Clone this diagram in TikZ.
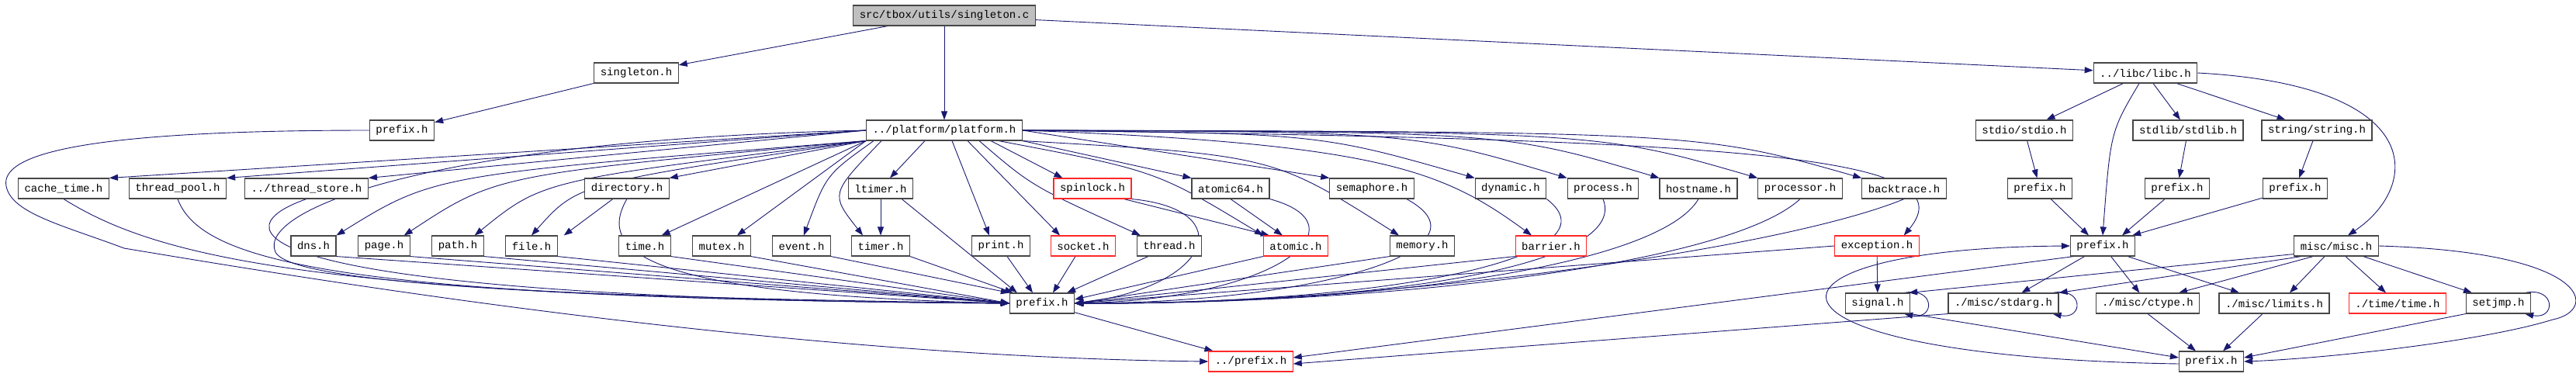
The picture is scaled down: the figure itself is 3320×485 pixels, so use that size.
\documentclass[tikz,border=0pt]{standalone}
\usepackage{fontspec}
\setmonofont{Liberation Mono}
\usetikzlibrary{arrows.meta, backgrounds}
\definecolor{EdgeBlue}{RGB}{25,25,112}
\definecolor{BoxRed}{RGB}{255,40,40}
\definecolor{TopGray}{RGB}{191,191,191}
\definecolor{BoxGray}{RGB}{70,70,70}

\begin{document}
\begin{tikzpicture}[
  x=1pt, y=-1pt,
  font=\ttfamily\fontsize{14}{16}\selectfont,
  hdr/.style={rectangle, draw=BoxGray, line width=1.1pt, fill=white,
              minimum height=26pt, inner xsep=8pt, inner ysep=0pt},
  errhdr/.style={hdr, draw=BoxRed},
  tophdr/.style={hdr, fill=TopGray},
  arrow/.style={-{Triangle[length=11pt,width=8pt]}, EdgeBlue, line width=0.9pt},
]
\useasboundingbox (0,0) rectangle (3320,485);

% Top
\node[tophdr] (sc) at (1217,20) {src/tbox/utils/singleton.c};
\node[hdr] (singh) at (820,94) {singleton.h};
\node[hdr] (libc) at (2765,94) {../libc/libc.h};
\node[hdr] (prefa) at (518,168) {prefix.h};
\node[hdr] (plat) at (1217,168) {../platform/platform.h};
\node[hdr] (stdio) at (2609,168) {stdio/stdio.h};
\node[hdr] (stdlib) at (2820,168) {stdlib/stdlib.h};
\node[hdr] (strg) at (2986,168) {string/string.h};

% Row 3
\node[hdr] (ctime) at (82,243) {cache\_time.h};
\node[hdr] (tpool) at (229,243) {thread\_pool.h};
\node[hdr] (tstore) at (395,243) {../thread\_store.h};
\node[hdr] (dir) at (808,243) {directory.h};
\node[hdr] (ltimer) at (1135,243) {ltimer.h};
\node[errhdr] (spin) at (1408,243) {spinlock.h};
\node[hdr] (at64) at (1586,243) {atomic64.h};
\node[hdr] (sema) at (1768,243) {semaphore.h};
\node[hdr] (dyn) at (1947,243) {dynamic.h};
\node[hdr] (proc) at (2066,243) {process.h};
\node[hdr] (host) at (2189,243) {hostname.h};
\node[hdr] (cpu) at (2320,243) {processor.h};
\node[hdr] (btrace) at (2454,243) {backtrace.h};
\node[hdr] (prefsa) at (2629,243) {prefix.h};
\node[hdr] (prefsb) at (2806,243) {prefix.h};
\node[hdr] (prefsc) at (2958,243) {prefix.h};

% Row 4
\node[hdr] (dns) at (404,317) {dns.h};
\node[hdr] (page) at (495,317) {page.h};
\node[hdr] (path) at (590,317) {path.h};
\node[hdr] (file) at (685,317) {file.h};
\node[hdr] (time) at (831,317) {time.h};
\node[hdr] (mutex) at (930,317) {mutex.h};
\node[hdr] (event) at (1033,317) {event.h};
\node[hdr] (timer) at (1135,317) {timer.h};
\node[hdr] (print) at (1290,317) {print.h};
\node[errhdr] (socket) at (1396,317) {socket.h};
\node[hdr] (thread) at (1507,317) {thread.h};
\node[errhdr] (atomic) at (1670,317) {atomic.h};
\node[hdr] (memory) at (1833,317) {memory.h};
\node[errhdr] (barrier) at (1999,317) {barrier.h};
\node[errhdr] (except) at (2419,317) {exception.h};
\node[hdr] (prefl) at (2710,317) {prefix.h};
\node[hdr] (misc) at (3011,317) {misc/misc.h};

% Row 5
\node[hdr] (prefp) at (1343,391) {prefix.h};
\node[hdr] (signal) at (2420,391) {signal.h};
\node[hdr] (stdarg) at (2582,391) {./misc/stdarg.h};
\node[hdr] (ctype) at (2768,391) {./misc/ctype.h};
\node[hdr] (limits) at (2931,391) {./misc/limits.h};
\node[errhdr] (ttime) at (3090,391) {./time/time.h};
\node[hdr] (setjmp) at (3220,391) {setjmp.h};

% Row 6
\node[errhdr] (dpref) at (1612,466) {../prefix.h};
\node[hdr] (prefb) at (2850,466) {prefix.h};

\begin{scope}[on background layer]
% Source file
\draw[arrow] (sc) -- (singh);
\draw[arrow] (sc) -- (plat);
\draw[arrow] (sc) -- (libc);
\draw[arrow] (singh) -- (prefa);
\draw[arrow] (prefa.west) .. controls (100,168) and (0,200) .. (8,240)
  .. controls (15,275) and (80,290) .. (160,320)
  .. controls (400,360) and (1000,460) .. (dpref.west);

% Platform, left side
\draw[arrow] (plat.west) -- (ctime.north east);
\draw[arrow] (plat.west) -- (tpool.north east);
\draw[arrow] (plat.west) -- (tstore.north east);
\draw[arrow] (plat.south west) -- (dir.north east);
\draw[arrow] (plat.south west) .. controls (560,225) .. (dns.north east);
\draw[arrow] (plat.south west) .. controls (640,225) .. ([xshift=-8pt]page.north east);
\draw[arrow] (plat.south west) .. controls (700,232) .. ([xshift=-12pt]path.north east);
\draw[arrow] (plat.south west) .. controls (745,236) .. (file.north);
\draw[arrow] (plat.south west) -- ([xshift=-12pt]time.north east);
\draw[arrow] (plat.south west) -- ([xshift=-18pt]mutex.north east);
\draw[arrow] ([xshift=10pt]plat.south west) .. controls (1065,225) .. ([xshift=-35pt]event.north east);
\draw[arrow] ([xshift=20pt]plat.south west) .. controls (1070,250) .. ([xshift=15pt]timer.north west);
\draw[arrow] ([xshift=-25pt]plat.south) -- ([xshift=12pt]ltimer.north);
\draw[arrow] (plat.west) .. controls (560,180) and (330,270) .. (355,325)
  .. controls (380,375) and (900,385) .. (prefp.west);

% Platform, middle
\draw[arrow] ([xshift=10pt]plat.south) -- ([xshift=-15pt]print.north);
\draw[arrow] ([xshift=30pt]plat.south) -- ([xshift=-30pt]socket.north);
\draw[arrow] ([xshift=45pt]plat.south) .. controls (1330,240) .. ([xshift=5pt]thread.north west);
\draw[arrow] ([xshift=60pt]plat.south) -- ([xshift=12pt]spin.north west);
\draw[arrow] ([xshift=70pt]plat.south) .. controls (1490,220) .. (atomic.north west);
\draw[arrow] (plat.south east) -- (at64.north west);
\draw[arrow] (plat.south east) .. controls (1640,200) .. ([xshift=-30pt]memory.north);

% Platform, right side
\draw[arrow] (plat.east) -- (sema.north west);
\draw[arrow] (plat.east) .. controls (1780,185) and (1860,220) .. ([xshift=-25pt]barrier.north);
\draw[arrow] (plat.east) .. controls (1700,172) .. (dyn.north west);
\draw[arrow] (plat.east) .. controls (1820,170) .. (proc.north west);
\draw[arrow] (plat.east) .. controls (1940,170) .. (host.north west);
\draw[arrow] (plat.east) .. controls (2060,170) .. (cpu.north west);
\draw[arrow] (plat.east) .. controls (2190,170) .. (btrace.north west);
\draw[arrow] (plat.east) .. controls (2250,180) and (2540,200) .. ([xshift=-20pt]except.north east);

% Row 3 and 4 to prefix.h
\draw[arrow] (ctime.south) .. controls (200,330) and (400,385) .. (prefp.west);
\draw[arrow] (tpool.south) .. controls (260,340) and (450,385) .. (prefp.west);
\draw[arrow] (tstore.south) .. controls (270,300) and (330,385) .. (prefp.west);
\draw[arrow] (dir) -- ([xshift=8pt]file.north east);
\draw[arrow] (dir.south) .. controls (765,330) and (850,380) .. (prefp.west);
\draw[arrow] (dns.south east) -- (prefp.west);
\draw[arrow] (page.south east) -- (prefp.west);
\draw[arrow] (path.south east) -- (prefp.west);
\draw[arrow] (file.south east) -- (prefp.west);
\draw[arrow] (time.south east) -- (prefp.west);
\draw[arrow] (mutex.south east) -- (prefp.west);
\draw[arrow] (event.south east) -- (prefp.north west);
\draw[arrow] (ltimer) -- (timer);
\draw[arrow] (timer.south east) -- ([xshift=5pt]prefp.north west);
\draw[arrow] ([xshift=-15pt]ltimer.south east) -- ([xshift=10pt]prefp.north west);
\draw[arrow] ([xshift=8pt]print.south) -- ([xshift=-12pt]prefp.north);
\draw[arrow] ([xshift=-10pt]socket.south) -- ([xshift=14pt]prefp.north);
\draw[arrow] ([xshift=15pt]thread.south west) -- ([xshift=-10pt]prefp.north east);
\draw[arrow] ([xshift=-10pt]spin.south east) -- ([xshift=8pt]atomic.north west);
\draw[arrow] (at64.south) -- ([xshift=25pt]atomic.north west);
\draw[arrow] (atomic.south west) -- ([yshift=5pt]prefp.east);
\draw[arrow] (memory.south west) -- (prefp.east);
\draw[arrow] (barrier.south west) -- (prefp.east);
\draw[arrow] (spin.south east) .. controls (1600,270) and (1560,370) .. (prefp.east);
\draw[arrow] (at64.south east) .. controls (1760,290) and (1650,385) .. (prefp.east);
\draw[arrow] ([xshift=-10pt]sema.south east) .. controls (1930,320) and (1700,390) .. (prefp.east);
\draw[arrow] (dyn.south east) .. controls (2090,330) and (1800,392) .. (prefp.east);
\draw[arrow] (proc.south) .. controls (2100,340) and (1800,392) .. (prefp.east);
\draw[arrow] (host.south) .. controls (2140,340) and (1800,392) .. (prefp.east);
\draw[arrow] (cpu.south) .. controls (2230,340) and (1800,392) .. (prefp.east);
\draw[arrow] (btrace.south) .. controls (2300,320) and (1800,392) .. (prefp.east);
\draw[arrow] (except.west) -- (prefp.east);
\draw[arrow] (prefp) -- (dpref);

% libc
\draw[arrow] (libc) -- (stdio);
\draw[arrow] (libc) -- (stdlib);
\draw[arrow] (libc) -- (strg);
\draw[arrow] ([xshift=-8pt]libc.south) .. controls (2720,170) .. (prefl.north);
\draw[arrow] (libc.east) .. controls (3130,110) and (3120,240) .. ([xshift=15pt]misc.north);
\draw[arrow] (stdio) -- (prefsa);
\draw[arrow] (stdlib) -- (prefsb);
\draw[arrow] (strg) -- (prefsc);
\draw[arrow] (prefsa) -- ([xshift=-18pt]prefl.north);
\draw[arrow] (prefsb) -- ([xshift=25pt]prefl.north);
\draw[arrow] (prefsc) -- ([xshift=-4pt]prefl.north east);

% libc prefix.h and misc
\draw[arrow] (except) -- (signal);
\draw[arrow] (prefl) -- (stdarg);
\draw[arrow] (prefl) -- (ctype);
\draw[arrow] ([xshift=-10pt]prefl.south east) -- ([xshift=-45pt]limits.north);
\draw[arrow] ([xshift=5pt]prefl.south west) -- ([yshift=5pt]dpref.east);
\draw[arrow] (stdarg.south west) -- ([yshift=-3pt]dpref.east);
\draw[arrow] ([yshift=3pt]misc.south west) -- ([xshift=-2pt]signal.north east);
\draw[arrow] ([xshift=10pt]misc.south west) -- (stdarg.north east);
\draw[arrow] ([xshift=25pt]misc.south west) -- ([xshift=40pt]ctype.north);
\draw[arrow] ([xshift=-15pt]misc.south) -- ([xshift=20pt]limits.north);
\draw[arrow] ([xshift=12pt]misc.south) -- ([xshift=-15pt]ttime.north);
\draw[arrow] ([xshift=-20pt]misc.south east) -- ([xshift=-34pt]setjmp.north);
\draw[arrow] (misc.east) .. controls (3340,325) and (3350,400) .. (3290,412)
  .. controls (3200,440) and (3000,462) .. (prefb.east);
\draw[arrow] (signal.south east) -- ([yshift=5pt]prefb.west);
\draw[arrow] (ctype.south) -- ([xshift=-20pt]prefb.north);
\draw[arrow] ([xshift=-15pt]limits.south) -- ([xshift=15pt]prefb.north);
\draw[arrow] (setjmp.south west) -- ([yshift=5pt]prefb.east);
\draw[arrow] ([yshift=-3pt]prefb.west) .. controls (2230,460) and (2230,320) .. (prefl.west);

% Self loops
\draw[arrow] ([xshift=-8pt]signal.north east) .. controls +(40,-8) and +(40,8) .. ([xshift=-8pt]signal.south east);
\draw[arrow] ([xshift=-8pt]stdarg.north east) .. controls +(40,-8) and +(40,8) .. ([xshift=-8pt]stdarg.south east);
\draw[arrow] ([xshift=-8pt]setjmp.north east) .. controls +(40,-8) and +(40,8) .. ([xshift=-8pt]setjmp.south east);
\end{scope}

\end{tikzpicture}
\end{document}
